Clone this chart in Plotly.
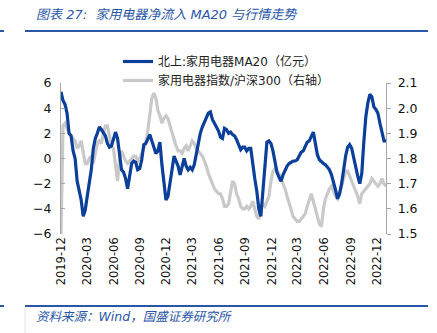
import pandas as pd
import plotly.graph_objects as go

# Weekly observations
dates = pd.date_range("2019-12-01", periods=162, freq="7D")

# 北上资金 家用电器 净流入 MA20 (亿元)
north_ma20 = [
    5.3, 4.6, 4.3, 3.6, 2.0, 1.8, 0.6, 0.0, -1.8, -2.6,
    -3.3, -4.6, -4.1, -3.0, -2.0, -0.9, 0.8, 1.6, 2.0, 2.5,
    2.3, 2.0, 1.8, 1.2, 0.9, 1.0, 1.6, 2.1, 1.6, 0.3,
    -0.9, -1.1, -1.6, -2.4, -1.4, -0.4, -0.2, -0.3, -0.9, -0.8,
    -0.1, 1.1, 1.2, 1.5, 1.9, 1.4, 0.9, 0.4, 0.6, 1.3,
    -0.5, -2.0, -3.3, -3.0, -2.1, -0.9, 0.2, -0.2, -0.6, -1.3,
    -0.5, 0.0, -0.6, -0.9, -0.7, -0.9, -0.5, 0.4, 1.3, 2.0,
    2.5, 2.9, 3.2, 3.6, 3.7, 3.1, 2.8, 2.5, 2.2, 1.7,
    1.6, 2.4, 2.3, 2.0, 2.1, 1.9, 1.8, 1.5, 1.0, 0.7,
    0.9, 0.9, 0.6, 0.8, 0.8, -0.6, -1.6, -2.6, -4.0, -4.6,
    -2.6, -0.2, 1.3, 1.4, 1.2, 0.6, -0.4, -1.1, -1.5, -1.8,
    -1.3, -0.9, -0.6, -0.4, -0.3, -0.2, -0.2, -0.1, 0.2, 0.5,
    0.6, 1.0, 1.3, 1.4, 1.7, 2.1, 1.2, 0.3, -0.1, -0.3,
    -0.4, -0.5, -0.7, -0.9, -1.3, -1.8, -2.5, -3.2, -2.8, -2.0,
    -0.8, 0.2, 0.9, 1.1, 0.8, 0.0, -0.6, -1.4, -2.0, -1.2,
    1.3, 3.3, 4.4, 5.1, 4.9, 4.1, 3.9, 3.6, 2.8, 2.1,
    1.4, 1.4,
]

# 家用电器指数 / 沪深300 (右轴)
index_ratio = [
    1.50, 1.93, 1.94, 1.92, 1.90, 1.89, 1.88, 1.87, 1.84, 1.85,
    1.87, 1.83, 1.78, 1.78, 1.80, 1.81, 1.78, 1.82, 1.86, 1.87,
    1.86, 1.90, 1.93, 1.93, 1.89, 1.85, 1.84, 1.77, 1.71, 1.80,
    1.83, 1.81, 1.79, 1.78, 1.79, 1.80, 1.81, 1.81, 1.79, 1.80,
    1.82, 1.84, 1.86, 1.91, 1.98, 2.04, 2.06, 2.04, 1.99, 1.97,
    1.94, 1.96, 1.97, 1.96, 1.93, 1.90, 1.87, 1.85, 1.83, 1.83,
    1.82, 1.84, 1.85, 1.83, 1.85, 1.87, 1.86, 1.84, 1.83, 1.82,
    1.81, 1.79, 1.77, 1.74, 1.72, 1.70, 1.68, 1.67, 1.66, 1.66,
    1.64, 1.61, 1.61, 1.62, 1.67, 1.71, 1.70, 1.66, 1.64, 1.61,
    1.60, 1.60, 1.61, 1.60, 1.61, 1.63, 1.60, 1.57, 1.56, 1.61,
    1.62, 1.61, 1.63, 1.65, 1.71, 1.75, 1.76, 1.75, 1.74, 1.72,
    1.70, 1.68, 1.65, 1.62, 1.59, 1.57, 1.56, 1.55, 1.55, 1.56,
    1.57, 1.58, 1.61, 1.64, 1.66, 1.63, 1.60, 1.56, 1.54, 1.53,
    1.60, 1.64, 1.66, 1.68, 1.69, 1.67, 1.65, 1.64, 1.66, 1.69,
    1.72, 1.75, 1.75, 1.73, 1.71, 1.69, 1.67, 1.65, 1.62, 1.66,
    1.67, 1.68, 1.69, 1.70, 1.72, 1.71, 1.70, 1.69, 1.70, 1.72,
    1.70, 1.69,
]

# Quarterly tick labels
tick_months = [
    "2019-12", "2020-03", "2020-06", "2020-09", "2020-12", "2021-03",
    "2021-06", "2021-09", "2021-12", "2022-03", "2022-06", "2022-09",
    "2022-12",
]
left_ticks = [-6, -4, -2, 0, 2, 4, 6]
right_ticks = [1.5, 1.6, 1.7, 1.8, 1.9, 2.0, 2.1]

BLUE = "#0B3F9A"
GRAY = "#C9C9C9"
AXIS = "#A6A6A6"
HEAD = "#2A56A6"
FONT = "DejaVu Sans, Noto Sans CJK SC, sans-serif"

W, H = 437, 333
ML, MR, MT, MB = 61, 51, 83, 99
PW, PH = W - ML - MR, H - MT - MB


def px_x(px):
    return (px - ML) / PW


def px_y(py):
    return (H - MB - py) / PH


fig = go.Figure()

# ratio on the right-hand axis (base layer), net inflow on the left-hand overlay
fig.add_trace(go.Scatter(
    x=dates, y=index_ratio, xaxis="x", yaxis="y", mode="lines",
    name="家用电器指数/沪深300（右轴）",
    line=dict(color=GRAY, width=3.2), legendrank=2,
))
fig.add_trace(go.Scatter(
    x=dates, y=north_ma20, xaxis="x", yaxis="y2", mode="lines",
    name="北上:家用电器MA20（亿元）",
    line=dict(color=BLUE, width=3.2), legendrank=1,
))

x_range = [dates[0], dates[-1]]
tickvals = [pd.Timestamp(m + "-01") for m in tick_months]

fig.update_layout(
    width=W, height=H,
    margin=dict(l=ML, r=MR, t=MT, b=MB, pad=0),
    paper_bgcolor="white", plot_bgcolor="white",
    font=dict(family=FONT, size=12, color="#000000"),
    showlegend=True,
    legend=dict(
        x=px_x(118), y=px_y(47), xanchor="left", yanchor="top",
        bgcolor="rgba(0,0,0,0)", font=dict(size=12, color="#222222"),
        itemwidth=30, tracegroupgap=0,
    ),
    xaxis=dict(
        range=x_range, tickmode="array", tickvals=tickvals, ticktext=tick_months,
        tickangle=-90, showline=False, ticks="", showgrid=False, zeroline=False,
        tickfont=dict(size=11.5, color="#111111"),
    ),
    # axis line with quarter ticks drawn along the zero level
    xaxis2=dict(
        range=x_range, overlaying="x", anchor="free", position=0.5,
        tickmode="array", tickvals=tickvals, showticklabels=False,
        ticks="inside", ticklen=4, tickcolor=AXIS, tickwidth=1,
        showline=True, linecolor=AXIS, linewidth=1.3, showgrid=False, zeroline=False,
    ),
    yaxis=dict(
        range=[1.5, 2.1], tickmode="array", tickvals=right_ticks,
        tickformat=".1f", side="right", anchor="x",
        showline=True, linecolor=AXIS, linewidth=1.3,
        ticks="outside", ticklen=4, tickcolor=AXIS, ticklabelstandoff=4,
        showgrid=False, zeroline=False, tickfont=dict(size=12.5, color="#111111"),
    ),
    yaxis2=dict(
        range=[-6, 6], tickmode="array", tickvals=left_ticks,
        overlaying="y", side="left", anchor="x",
        showline=True, linecolor=AXIS, linewidth=1.3,
        ticks="inside", ticklen=4, tickcolor=AXIS, ticklabelstandoff=6,
        showgrid=False, zeroline=False, tickfont=dict(size=12.5, color="#111111"),
    ),
)

# Header and footer
fig.add_annotation(
    xref="paper", yref="paper", x=px_x(34), y=px_y(15),
    xanchor="left", yanchor="middle", showarrow=False,
    text="<i>图表 27:  家用电器净流入 MA20 与行情走势</i>",
    font=dict(family=FONT, size=13, color=HEAD),
)
fig.add_annotation(
    xref="paper", yref="paper", x=px_x(34), y=px_y(316),
    xanchor="left", yanchor="middle", showarrow=False,
    text="<i>资料来源：Wind，国盛证券研究所</i>",
    font=dict(family=FONT, size=12.5, color=HEAD),
)

# Rules above and below the chart
for py in (31, 306):
    fig.add_shape(type="line", xref="paper", yref="paper",
                  x0=px_x(25), x1=px_x(428), y0=px_y(py), y1=px_y(py),
                  line=dict(color=HEAD, width=2))
    fig.add_shape(type="line", xref="paper", yref="paper",
                  x0=px_x(0), x1=px_x(4), y0=px_y(py), y1=px_y(py),
                  line=dict(color=HEAD, width=2))
fig.add_shape(type="line", xref="paper", yref="paper",
              x0=px_x(25), x1=px_x(25), y0=px_y(307), y1=px_y(333),
              line=dict(color="#E6E6E6", width=1))

fig.write_html("out.html")
